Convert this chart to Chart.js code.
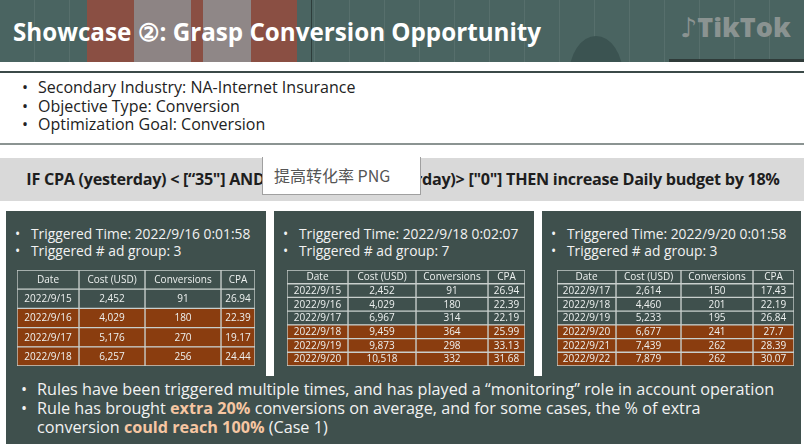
<!DOCTYPE html>
<html lang="en">
<head>
  <meta charset="UTF-8" />
  <title>Showcase 2: Grasp Conversion Opportunity</title>
  <script src="https://cdn.jsdelivr.net/npm/chart.js"></script>
  <style>
    body {
      margin: 0;
      width: 804px;
      height: 447px;
      overflow: hidden;
      background: #fff;
      font-family: "Open Sans", Arial, sans-serif;
      position: relative;
    }
    .abs { position: absolute; }
    #header {
      left: 0; top: 0; width: 804px; height: 62px;
      background: #4a6461;
      background-image: repeating-linear-gradient(90deg, rgba(255,255,255,0) 0 34px, rgba(255,255,255,0.07) 34px 35px);
      overflow: hidden;
    }
    .pillar { top: 0; height: 62px; }
    #title {
      left: 13px; top: 15px;
      color: #fff; font-weight: 700; font-size: 24.2px;
      letter-spacing: 0; white-space: nowrap;
    }
    #logo {
      left: 680px; top: 8px;
      color: #8a9391; font-weight: 800; font-size: 27px; white-space: nowrap;
    }
    .rule { left: 0; width: 804px; }
    .bullets {
      margin: 0; padding: 0; list-style: none; white-space: nowrap;
    }
    .bullets li { position: relative; }
    .bullets li::before {
      content: "•"; position: absolute; left: -16px;
    }
    #info { left: 38px; top: 78px; font-size: 16px; line-height: 18.5px; color: #222; }
    #banner {
      left: 0; top: 158px; width: 804px; height: 43px;
      background: #d9d9d9;
    }
    #bannerText {
      left: 26px; top: 168px; width: 754px; text-align: center;
      font-weight: 700; font-size: 16.2px; letter-spacing: -0.3px; color: #1e1e1e; white-space: nowrap;
    }
    #imgBox {
      left: 262px; top: 157px; width: 159px; height: 38px;
      background: #fff; border: 1px solid #a0a0a0; border-top: none;
      font-family: "Noto Sans CJK SC", sans-serif; font-size: 16px; color: #555;
      box-sizing: border-box; padding: 6px 0 0 11px; white-space: nowrap;
    }
    #panelBg { left: 6px; top: 211px; width: 795px; height: 233px; background: #3f504d; }
    .gap { top: 211px; width: 8px; height: 165px; background: #fff; }
    .panelText { top: 226px; font-size: 13.8px; line-height: 16.5px; color: #f2f2f2; }
    .tbl { top: 270px; height: 96px; }
    #summary { left: 37px; top: 380px; font-size: 16.2px; line-height: 19px; color: #f2f2f2; letter-spacing: 0; }
    #summary b { color: #f6c6a2; }
  </style>
</head>
<body>
  <div id="header" class="abs">
    <div class="abs pillar" style="left:87px;width:47px;background:#8a4f43;"></div>
    <div class="abs pillar" style="left:134px;width:57px;background:#8d8484;"></div>
    <div class="abs pillar" style="left:191px;width:12px;background:#8a4f43;"></div>
    <div class="abs pillar" style="left:203px;width:48px;background:#8f8787;"></div>
    <div class="abs pillar" style="left:251px;width:46px;background:#8a4f43;"></div>
    <div class="abs" style="left:311px;top:0;width:1px;height:62px;background:#2e3d3b;"></div>
    <div class="abs" style="left:569px;top:36px;width:54px;height:40px;background:#3b5351;border-radius:50% 50% 0 0 / 100% 100% 0 0;"></div>
    <div class="abs" style="left:669px;top:59px;width:135px;height:3px;background:#2f3b39;"></div>
    <div id="title" class="abs">Showcase ②: Grasp Conversion Opportunity</div>
    <div id="logo" class="abs"><span style="font-family:'DejaVu Sans';">♪</span>TikTok</div>
  </div>

  <div class="abs rule" style="top:71px;height:2px;background:#3b4a48;"></div>
  <ul id="info" class="abs bullets"></ul>
  <div class="abs rule" style="top:143px;height:2px;background:#8b9492;"></div>

  <div id="banner" class="abs"></div>
  <div id="bannerText" class="abs">IF CPA (yesterday) &lt; [“35"] AND Conversions (yesterday)&gt; ["0"] THEN increase Daily budget by 18%</div>
  <div id="imgBox" class="abs">提高转化率 PNG</div>

  <div id="panelBg" class="abs"></div>
  <div class="abs gap" style="left:266px;"></div>
  <div class="abs gap" style="left:534px;"></div>

  <ul id="p1" class="abs bullets panelText" style="left:31px;"></ul>
  <ul id="p2" class="abs bullets panelText" style="left:299px;"></ul>
  <ul id="p3" class="abs bullets panelText" style="left:567px;"></ul>

  <div class="abs tbl" style="left:17px;width:238px;"><canvas id="t1"></canvas></div>
  <div class="abs tbl" style="left:287px;width:238px;"><canvas id="t2"></canvas></div>
  <div class="abs tbl" style="left:557px;width:237px;"><canvas id="t3"></canvas></div>

  <ul id="summary" class="abs bullets"></ul>

  <script>
    // ---- data ----
    const infoLines = [
      'Secondary Industry: NA-Internet Insurance',
      'Objective Type: Conversion',
      'Optimization Goal: Conversion'
    ];
    const tableHeader = ['Date', 'Cost (USD)', 'Conversions', 'CPA'];

    const case1Time = '2022/9/16 0:01:58';
    const case1Groups = 3;
    const case1Dates = ['2022/9/15', '2022/9/16', '2022/9/17', '2022/9/18'];
    const case1Cost = [2452, 4029, 5176, 6257];
    const case1Conv = [91, 180, 270, 256];
    const case1Cpa = ['26.94', '22.39', '19.17', '24.44'];

    const case2Time = '2022/9/18 0:02:07';
    const case2Groups = 7;
    const case2Dates = ['2022/9/15', '2022/9/16', '2022/9/17', '2022/9/18', '2022/9/19', '2022/9/20'];
    const case2Cost = [2452, 4029, 6967, 9459, 9873, 10518];
    const case2Conv = [91, 180, 314, 364, 298, 332];
    const case2Cpa = ['26.94', '22.39', '22.19', '25.99', '33.13', '31.68'];

    const case3Time = '2022/9/20 0:01:58';
    const case3Groups = 3;
    const case3Dates = ['2022/9/17', '2022/9/18', '2022/9/19', '2022/9/20', '2022/9/21', '2022/9/22'];
    const case3Cost = [2614, 4460, 5233, 6677, 7439, 7879];
    const case3Conv = [150, 201, 195, 241, 262, 262];
    const case3Cpa = ['17.43', '22.19', '26.84', '27.7', '28.39', '30.07'];

    const summaryLines = [
      'Rules have been triggered multiple times, and has played a “monitoring” role in account operation',
      'Rule has brought <b>extra 20%</b> conversions on average, and for some cases, the % of extra<br>conversion <b>could reach 100%</b> (Case 1)'
    ];

    // ---- layout / style ----
    const colWidths1 = [62, 66, 76, 34];
    const colWidths2 = [61, 68, 72, 37];
    const colWidths3 = [59, 65, 72, 41];
    const baseColor = '#3f504d';
    const hitColor = '#8a3d0f';
    const lineColor = '#c9cfcd';

    function fillList(id, lines) {
      document.getElementById(id).innerHTML = lines.map(l => `<li>${l}</li>`).join('');
    }
    fillList('info', infoLines);
    fillList('p1', ['Triggered Time: ' + case1Time, 'Triggered # ad group: ' + case1Groups]);
    fillList('p2', ['Triggered Time: ' + case2Time, 'Triggered # ad group: ' + case2Groups]);
    fillList('p3', ['Triggered Time: ' + case3Time, 'Triggered # ad group: ' + case3Groups]);
    fillList('summary', summaryLines);

    const cellText = {
      id: 'cellText',
      afterDatasetsDraw(chart, args, opts) {
        const ctx = chart.ctx;
        ctx.save();
        ctx.font = opts.font;
        ctx.fillStyle = '#eef1f0';
        ctx.textAlign = 'center';
        ctx.textBaseline = 'middle';
        chart.data.datasets.forEach((ds, ci) => {
          chart.getDatasetMeta(ci).data.forEach((el, ri) => {
            const p = el.getProps(['x', 'y', 'base'], true);
            ctx.fillText(opts.rows[ri][ci], (p.x + p.base) / 2, p.y + 0.5);
          });
        });
        ctx.restore();
      }
    };

    function makeTable(id, time, dates, cost, conv, cpa, widths, fontSize) {
      const trigDate = time.split(' ')[0];
      const trigIndex = dates.indexOf(trigDate);
      const rows = [tableHeader].concat(dates.map((d, i) => [
        d, cost[i].toLocaleString('en-US'), String(conv[i]), cpa[i]
      ]));
      const labels = ['header'].concat(dates);
      const colors = labels.map((_, ri) => (ri > 0 && ri - 1 >= trigIndex) ? hitColor : baseColor);
      const total = widths.reduce((a, b) => a + b, 0);
      new Chart(document.getElementById(id), {
        type: 'bar',
        data: {
          labels: labels,
          datasets: widths.map(w => ({
            data: labels.map(() => w),
            backgroundColor: colors,
            borderColor: lineColor,
            borderWidth: 1,
            borderSkipped: false,
            barPercentage: 1,
            categoryPercentage: 1
          }))
        },
        options: {
          indexAxis: 'y',
          responsive: true,
          maintainAspectRatio: false,
          animation: false,
          layout: { padding: 0 },
          scales: {
            x: { stacked: true, display: false, min: 0, max: total },
            y: { stacked: true, display: false }
          },
          plugins: {
            legend: { display: false },
            tooltip: { enabled: false },
            cellText: { rows: rows, font: fontSize + 'px "Open Sans", sans-serif' }
          }
        },
        plugins: [cellText]
      });
    }

    makeTable('t1', case1Time, case1Dates, case1Cost, case1Conv, case1Cpa, colWidths1, 10);
    makeTable('t2', case2Time, case2Dates, case2Cost, case2Conv, case2Cpa, colWidths2, 10);
    makeTable('t3', case3Time, case3Dates, case3Cost, case3Conv, case3Cpa, colWidths3, 10);
  </script>
</body>
</html>
